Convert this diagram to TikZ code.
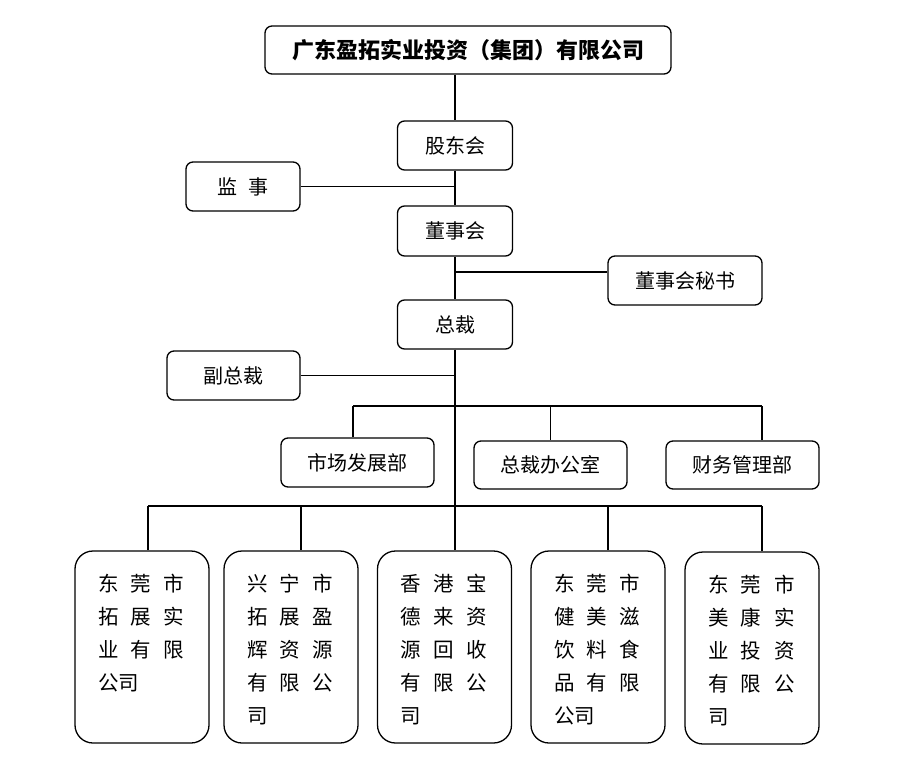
\documentclass[tikz,border=0pt]{standalone}
\usepackage{fontspec}
\setmainfont{Noto Sans CJK SC}
\usetikzlibrary{positioning,calc}
\newcommand{\gc}[1]{\makebox[33pt][l]{#1}}

\begin{document}
\begin{tikzpicture}[x=1pt,y=-1pt,
  box/.style={draw,line width=1.3pt,rounded corners=7pt,inner sep=0pt,font=\fontsize{20}{24}\selectfont},
  unit/.style={draw,line width=1.3pt,rounded corners=18pt,minimum width=134pt,minimum height=192pt,inner sep=0pt,font=\fontsize{20.5}{33}\selectfont},
  link/.style={line width=1.7pt}]
\useasboundingbox (0,0) rectangle (909,770);
% Head and boards
\node[box,minimum width=406pt,minimum height=48pt,font=\fontsize{22}{26}\selectfont\bfseries] (top) at (468,50) {广东盈拓实业投资（集团）有限公司};
\node[box,minimum width=115pt,minimum height=49pt] (gdh) at (455,145.5) {股东会};
\node[box,minimum width=114pt,minimum height=49pt] (js) at (243,186.5) {监\hspace{11pt}事};
\node[box,minimum width=115pt,minimum height=50pt] (dsh) at (455,231) {董事会};
\node[box,minimum width=154pt,minimum height=49pt] (ms) at (685,280.5) {董事会秘书};
\node[box,minimum width=115pt,minimum height=49pt] (zc) at (455,324.5) {总裁};
\node[box,minimum width=133pt,minimum height=49pt] (fzc) at (233.5,375.5) {副总裁};
% Departments
\node[box,minimum width=153pt,minimum height=49pt] (sc) at (357.5,462.5) {市场发展部};
\node[box,minimum width=153pt,minimum height=48pt] (zb) at (550.5,465) {总裁办公室};
\node[box,minimum width=153pt,minimum height=48pt] (cw) at (742.5,465) {财务管理部};
% Subsidiaries
\node[unit] (u1) at (142,647) {\parbox[c][146pt][t]{88pt}{\gc{东}\gc{莞}市\\\gc{拓}\gc{展}实\\\gc{业}\gc{有}限\\公司}};
\node[unit] (u2) at (291,647) {\parbox[c][146pt][t]{88pt}{\gc{兴}\gc{宁}市\\\gc{拓}\gc{展}盈\\\gc{辉}\gc{资}源\\\gc{有}\gc{限}公\\司}};
\node[unit] (u3) at (444.5,647) {\parbox[c][146pt][t]{88pt}{\gc{香}\gc{港}宝\\\gc{德}\gc{来}资\\\gc{源}\gc{回}收\\\gc{有}\gc{限}公\\司}};
\node[unit] (u4) at (598,647) {\parbox[c][146pt][t]{88pt}{\gc{东}\gc{莞}市\\\gc{健}\gc{美}滋\\\gc{饮}\gc{料}食\\\gc{品}\gc{有}限\\公司}};
\node[unit] (u5) at (752,648) {\parbox[c][146pt][t]{88pt}{\gc{东}\gc{莞}市\\\gc{美}\gc{康}实\\\gc{业}\gc{投}资\\\gc{有}\gc{限}公\\司}};

% Trunk
\coordinate (msj) at (455,272);
\coordinate (dL) at (353,406);
\coordinate (dR) at (762,406);
\coordinate (bL) at (148,506);
\coordinate (bR) at (762,506);
\draw[link] (gdh.north |- top.south) -- (gdh.north);
\draw[link] (gdh) -- (dsh);
\draw[link] (dsh) -- (zc);
\draw[link] (zc.south) -- (zc.south |- bL);
% Side branches
\draw[link] (js.east) -- (js.east -| dsh);
\draw[link] (msj) -- (msj -| ms.west);
\draw[link] (fzc.east) -- (fzc.east -| zc);
% Department bar
\draw[link] (dL) -- (dR);
\draw[link] (dL) -- (dL |- sc.north);
\draw[link] (zb.north |- dL) -- (zb.north);
\draw[link] (dR) -- (dR |- cw.north);
% Subsidiary bar
\draw[link] (bL) -- (bR);
\foreach \i/\x in {1/148,2/301,3/455,4/608,5/762} {
  \coordinate (b\i) at (\x,506);
  \draw[link] (b\i) -- (b\i |- u\i.north);
}
\end{tikzpicture}
\end{document}
